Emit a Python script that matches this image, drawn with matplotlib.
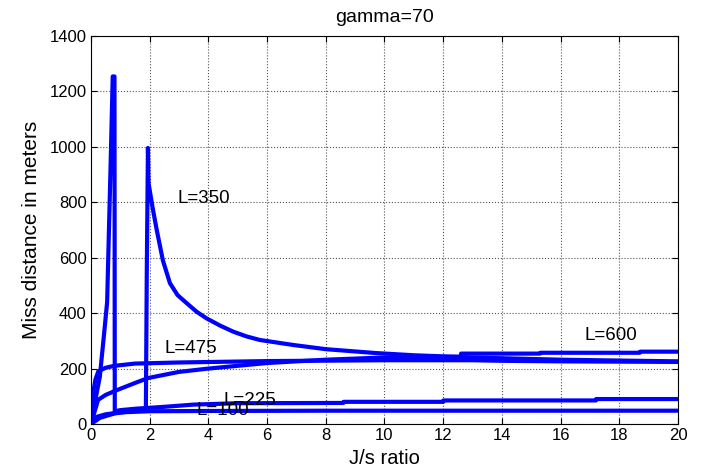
import matplotlib
matplotlib.use("Agg")
import matplotlib.pyplot as plt

# ================= DATA =================
# miss distance vs J/s ratio, one curve per L value
x_L100 = [0, 0.1, 0.2, 0.5, 1.0, 2.0, 4.0, 8.0, 20]
y_L100 = [0, 18, 26, 35, 42, 46, 47, 48, 48]

x_L225 = [0, 0.1, 0.3, 0.45, 0.55, 0.62, 0.66, 0.74, 0.8, 0.81, 1.0, 1.5, 2.5,
          3.5, 5.0, 8.6, 8.61, 12.0, 12.01, 17.2, 17.21, 20]
y_L225 = [0, 60, 170, 330, 440, 736, 900, 1254, 1254, 46, 50, 55, 62,
          70, 75, 76, 80, 80, 85, 85, 90, 90]

x_L350 = [0, 0.3, 0.8, 1.5, 1.87, 1.9, 1.94, 1.96, 2.1, 2.24, 2.45, 2.69, 2.95,
          3.26, 3.6, 3.94, 4.4, 4.85, 5.3, 5.76, 6.9, 8.0, 9.7, 11.0, 13.0, 16.0, 20]
y_L350 = [0, 22, 38, 48, 54, 540, 996, 869, 780, 700, 590, 508, 465,
          436, 405, 381, 355, 333, 316, 303, 285, 270, 256, 248, 240, 232, 226]

x_L475 = [0, 0.05, 0.15, 0.25, 0.5, 0.8, 1.5, 3.0, 6.0, 10.0, 13.0, 14.0, 16.0, 20]
y_L475 = [0, 100, 160, 190, 203, 210, 218, 222, 227, 230, 230, 228, 226, 224]

x_L600 = [0, 0.24, 0.5, 0.9, 1.5, 1.95, 3.0, 4.0, 6.0, 8.0, 10.0, 12.6, 12.61,
          15.3, 15.31, 18.7, 18.71, 20]
y_L600 = [0, 87, 105, 123, 148, 166, 188, 200, 220, 232, 240, 243, 254,
          254, 257, 257, 261, 261]

labels = ["L=100", "L=225", "L=350", "L=475", "L=600"]
label_xy = [(3.6, 50), (4.5, 85), (2.95, 812), (2.5, 271), (16.8, 318)]

x_ticks = list(range(0, 21, 2))
y_ticks = list(range(0, 1401, 200))

# ================= PLOT =================
plt.rcParams['font.family'] = ['Liberation Sans', 'DejaVu Sans']

fig = plt.figure(figsize=(7.01, 4.70), dpi=100)
ax = fig.add_axes([91 / 701, 1 - 424 / 470, 587 / 701, 388 / 470])

for xs, ys in [(x_L100, y_L100), (x_L225, y_L225), (x_L350, y_L350),
               (x_L475, y_L475), (x_L600, y_L600)]:
    ax.plot(xs, ys, color="#0000ff", linewidth=3.0, solid_joinstyle="round")

for txt, (tx, ty) in zip(labels, label_xy):
    ax.text(tx, ty, txt, fontsize=13.5, va="center", ha="left")

ax.set_xlim(0, 20)
ax.set_ylim(0, 1400)
ax.set_xticks(x_ticks)
ax.set_yticks(y_ticks)
ax.tick_params(direction="in", top=True, right=True, labelsize=12, length=4, pad=3)
ax.grid(True, color="#555555", linestyle=":", linewidth=0.8)
ax.set_axisbelow(True)

ax.set_xlabel("J/s ratio", fontsize=14.5, labelpad=4)
ax.set_ylabel("Miss distance in meters", fontsize=15, labelpad=6)
ax.set_title("gamma=70", fontsize=14, pad=10)

fig.savefig("out.png", dpi=100)
